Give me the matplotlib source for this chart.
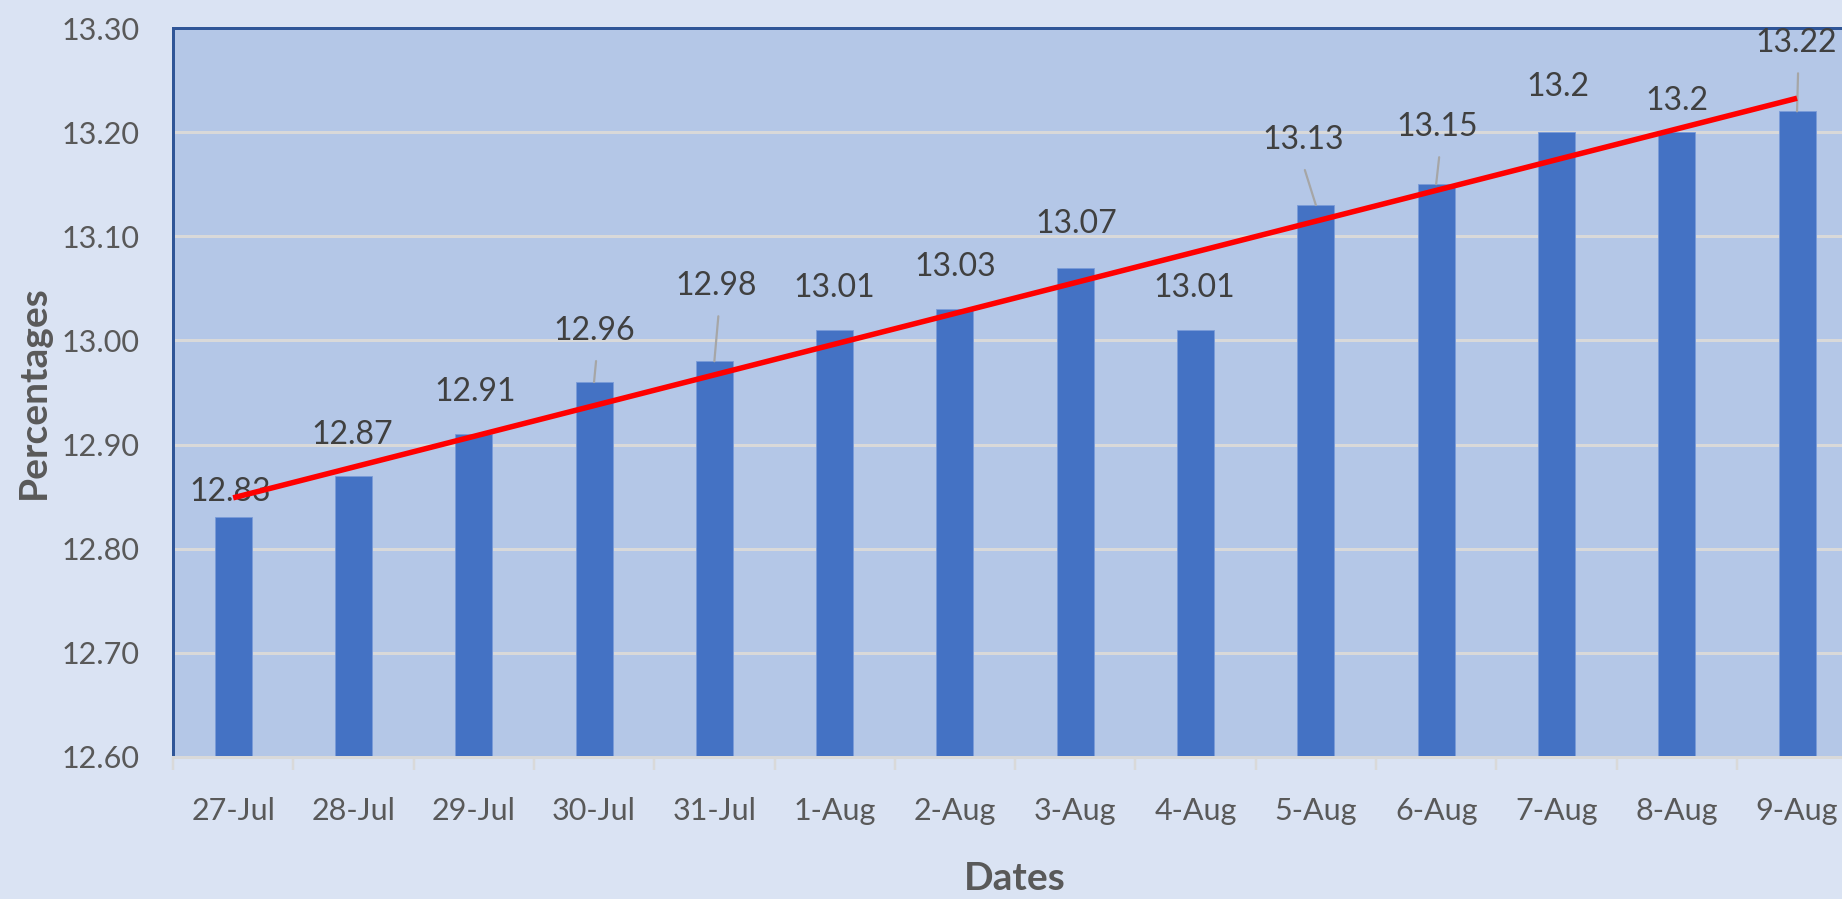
import matplotlib
matplotlib.use("Agg")
import matplotlib.pyplot as plt
import numpy as np

# ---- data ----
dates = ["27-Jul", "28-Jul", "29-Jul", "30-Jul", "31-Jul", "1-Aug", "2-Aug",
         "3-Aug", "4-Aug", "5-Aug", "6-Aug", "7-Aug", "8-Aug", "9-Aug"]
values = [12.83, 12.87, 12.91, 12.96, 12.98, 13.01, 13.03,
          13.07, 13.01, 13.13, 13.15, 13.2, 13.2, 13.22]
value_labels = ["12.83", "12.87", "12.91", "12.96", "12.98", "13.01", "13.03",
                "13.07", "13.01", "13.13", "13.15", "13.2", "13.2", "13.22"]
y_ticks = [12.60, 12.70, 12.80, 12.90, 13.00, 13.10, 13.20, 13.30]

# ---- label placement (pixel offsets of label centre from bar top) ----
label_dx = [-3, -1, 1, 0, 2, 0, 0, 1, -1, -13, 1, 1, 0, -1]
label_dy = [25, 41, 42, 51, 75, 42, 42, 44, 42, 65, 57, 45, 31, 68]
has_leader = [False, False, False, True, True, False, False, False, False,
              True, True, False, False, True]

DPI = 100
PX = 72.0 / DPI  # pixels -> points

FIG_BG = "#DAE3F3"
AX_BG = "#B4C7E7"
BAR_C = "#4472C4"
GRID_C = "#D9D9D9"
SPINE_C = "#2F5597"
TXT_C = "#595959"
LBL_C = "#404040"

plt.rcParams["font.family"] = ["Lato", "DejaVu Sans"]

fig = plt.figure(figsize=(1842 / DPI, 899 / DPI), dpi=DPI, facecolor=FIG_BG)
W, H = 1842, 899
ax_left, ax_top, ax_bottom = 173, 28, 757
cat_w = 120.3
ax = fig.add_axes([ax_left / W, 1 - ax_bottom / H, 14 * cat_w / W,
                   (ax_bottom - ax_top) / H])
ax.set_facecolor(AX_BG)

x = np.arange(len(dates))
ax.bar(x, values, width=0.307, color=BAR_C, edgecolor="#7A9BD8",
       linewidth=0.6, zorder=2)

# trendline (linear fit)
coef = np.polyfit(x, values, 1)
ax.plot(x, np.polyval(coef, x), color="#FF0000", lw=5.5 * PX,
        solid_capstyle="butt", zorder=5)

ax.set_xlim(-0.5, len(dates) - 0.5)
ax.set_ylim(y_ticks[0], y_ticks[-1])

# grid
for yv in y_ticks[1:-1]:
    ax.axhline(yv, color=GRID_C, lw=3 * PX, zorder=1)

# spines
ax.spines["right"].set_visible(False)
ax.spines["left"].set_color(SPINE_C)
ax.spines["left"].set_linewidth(3 * PX)
ax.spines["top"].set_color(SPINE_C)
ax.spines["top"].set_linewidth(3 * PX)
ax.spines["bottom"].set_color(GRID_C)
ax.spines["bottom"].set_linewidth(3 * PX)

# ticks
ax.set_yticks(y_ticks)
ax.set_yticklabels([f"{v:.2f}" for v in y_ticks])
ax.tick_params(axis="y", length=0, pad=33 * PX, labelsize=22, labelcolor=TXT_C)
ax.set_xticks(x)
ax.set_xticklabels(dates)
ax.tick_params(axis="x", which="major", length=0, pad=40 * PX,
               labelsize=22, labelcolor=TXT_C)
ax.set_xticks(np.arange(-0.5, len(dates), 1.0), minor=True)
ax.tick_params(axis="x", which="minor", length=13 * PX, width=2.5 * PX,
               color=GRID_C, direction="out")

# data labels
for i, v in enumerate(values):
    dx = label_dx[i] * PX
    dy = label_dy[i] * PX
    ax.annotate(value_labels[i], xy=(i, v), xytext=(dx, dy),
                textcoords="offset points", ha="center", va="center",
                fontsize=23, color=LBL_C, zorder=4, annotation_clip=False)
    if has_leader[i]:
        ax.annotate("", xy=(i, v), xytext=(dx + 2 * PX, dy - 30 * PX),
                    textcoords="offset points",
                    arrowprops=dict(arrowstyle="-", color="#A6A6A6",
                                    lw=2.2 * PX, shrinkA=0, shrinkB=0),
                    zorder=3, annotation_clip=False)

# axis titles
fig.text(33 / W, 1 - 392 / H, "Percentages", rotation=90, ha="center",
         va="center", fontsize=28, fontweight="bold", color=TXT_C)
fig.text((ax_left + 7 * cat_w) / W, 1 - 878 / H, "Dates", ha="center",
         va="center", fontsize=28, fontweight="bold", color=TXT_C)

fig.savefig("out.png", dpi=DPI, facecolor=FIG_BG)
